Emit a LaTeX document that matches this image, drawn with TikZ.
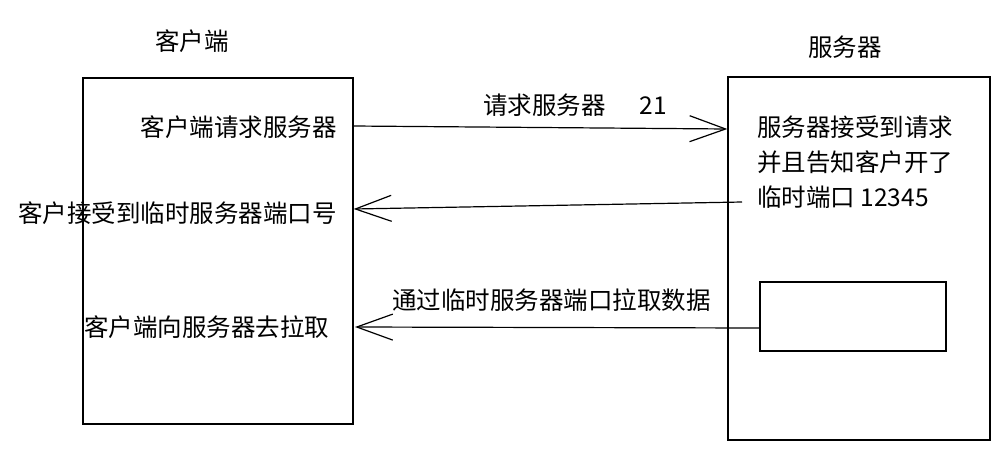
\documentclass[tikz,border=0pt]{standalone}
\usepackage{fontspec}
\setmainfont{Noto Sans CJK SC}
\usetikzlibrary{arrows.meta}
\begin{document}
\begin{tikzpicture}[x=1pt,y=-1pt,
  box/.style={draw,line width=1.3pt,inner sep=0pt},
  txt/.style={inner sep=0pt,font=\fontsize{24.5}{35}\selectfont},
  conn/.style={line width=1.2pt,-{Straight Barb[length=36pt,width=26pt,line width=1.2pt]}}]
\useasboundingbox (0,0) rectangle (1007,467);
% boxes
\node[box,minimum width=270pt,minimum height=346pt] (client) at (218,251) {};
\node[box,minimum width=262pt,minimum height=363pt] (server) at (859,258.5) {};
\node[box,minimum width=186pt,minimum height=69pt] (inner) at (853,316.5) {};
% titles
\node[txt] (ctitle) at (192,41) {客户端};
\node[txt] (stitle) at (845,47) {服务器};
% client texts
\node[txt,anchor=east] (c1) at (337,127) {客户端请求服务器};
\node[txt,anchor=west] (c2) at (18,213) {客户接受到临时服务器端口号};
\node[txt,anchor=west] (c3) at (84,327) {客户端向服务器去拉取};
% server text
\node[txt,anchor=west,align=left] (s1) at (757,162) {服务器接受到请求\\并且告知客户开了\\临时端口 12345};
% labels
\node[txt,anchor=west] (l1) at (483,105) {请求服务器\hspace{34pt}21};
\node[txt,anchor=west] (l3) at (392,300) {通过临时服务器端口拉取数据};
% connector ends
\coordinate (a1s) at (client.east |- 0,126);
\coordinate (a1e) at (server.west |- 0,129);
\coordinate (a2s) at (742,202);
\coordinate (a2e) at (client.east |- 0,209);
\coordinate (a3s) at (inner.west |- 0,328);
\coordinate (a3e) at (355,327);
\draw[conn] (a1s) -- (a1e);
\draw[conn] (a2s) -- (a2e);
\draw[conn] (a3s) -- (a3e);
\end{tikzpicture}
\end{document}
